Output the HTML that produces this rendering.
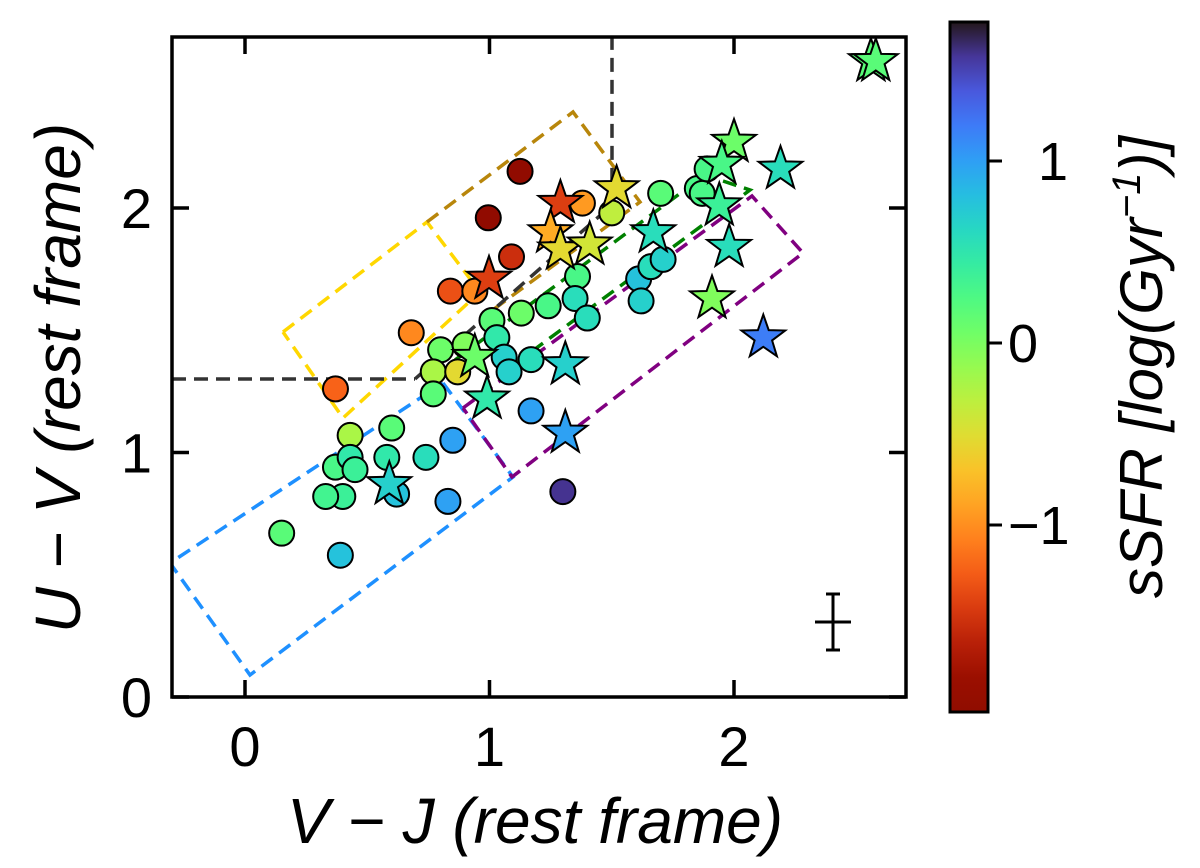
<!DOCTYPE html>
<html><head><meta charset="utf-8"><style>
body{margin:0;background:#fff}
svg text{font-family:"Liberation Sans","DejaVu Sans",sans-serif;fill:#000}
</style></head><body>
<svg id="chart" width="1200" height="863" viewBox="0 0 1200 863" xmlns="http://www.w3.org/2000/svg">
<defs>
<clipPath id="pc"><rect x="172" y="37" width="734" height="660"/></clipPath>
<linearGradient id="cbg" x1="0" y1="1" x2="0" y2="0"></linearGradient>
</defs>
<g id="boxes" clip-path="url(#pc)"></g>
<g id="marks" clip-path="url(#pc)"></g>
<g id="axes"></g>
</svg>
<script>
const circX=[1.125,0.995,1.09,0.84,0.94,0.68,0.37,1.38,0.80,0.90,1.01,1.13,1.24,1.03,1.06,1.08,0.77,0.87,0.77,1.36,1.35,1.50,1.70,1.85,1.87,1.89,1.61,1.66,1.71,1.62,1.17,0.43,0.60,0.85,0.74,0.37,0.43,0.45,0.58,0.40,0.33,0.62,0.83,0.15,0.39,1.30,1.17,1.40];
const circY=[2.15,1.96,1.80,1.66,1.66,1.49,1.26,2.02,1.42,1.44,1.54,1.57,1.60,1.47,1.39,1.33,1.33,1.33,1.24,1.72,1.63,1.98,2.06,2.08,2.06,2.16,1.71,1.76,1.79,1.62,1.38,1.07,1.10,1.05,0.98,0.94,0.98,0.93,0.98,0.82,0.82,0.83,0.80,0.67,0.58,0.84,1.17,1.55];
const circS=[-1.9,-1.9,-1.5,-1.3,-1.0,-1.0,-1.2,-0.9,0.1,0.0,0.2,0.1,0.3,0.5,0.7,0.7,-0.2,-0.5,0.2,0.3,0.6,-0.3,0.2,0.3,0.3,0.3,0.8,0.6,0.7,0.7,0.6,-0.2,0.2,1.0,0.6,0.3,0.5,0.4,0.5,0.4,0.35,0.8,1.0,0.2,0.8,1.6,1.0,0.6];
const starX=[1.29,1.25,1.29,1.41,1.52,0.998,0.94,0.99,1.31,1.31,0.59,1.67,1.94,2.00,1.95,2.19,1.98,1.91,2.12,2.56,2.58];
const starY=[2.02,1.90,1.83,1.85,2.08,1.71,1.39,1.22,1.36,1.08,0.87,1.90,2.01,2.27,2.18,2.16,1.84,1.63,1.47,2.60,2.60];
const starS=[-1.4,-0.8,-0.5,-0.4,-0.5,-1.4,0.1,0.5,0.7,1.0,0.7,0.6,0.4,0.1,0.3,0.6,0.6,0.0,1.2,0.2,0.2];
const xTicks=[0,1,2];
const yTicks=[0,1,2];
const cbTicks=[-1,0,1];
const VMIN=-1.98,VMAX=1.77;
const X=v=>245+v*244.5, Y=v=>697-v*244.5, CB=v=>343-v*182;
const NS="http://www.w3.org/2000/svg";
function mk(t,a,p){const e=document.createElementNS(NS,t);for(const k in a)e.setAttribute(k,a[k]);p.appendChild(e);return e;}
function turbo(t){t=Math.max(0,Math.min(1,t));
const r=0.13572138+t*(4.61539260+t*(-42.66032258+t*(132.13108234+t*(-152.94239396+t*59.28637943))));
const g=0.09140261+t*(2.19418839+t*(4.84296658+t*(-14.18503333+t*(4.27729857+t*2.82956604))));
const b=0.10667330+t*(12.64194608+t*(-60.58204836+t*(110.36276771+t*(-89.90310912+t*27.34824973))));
const c=x=>Math.round(255*Math.max(0,Math.min(1,x)));return `rgb(${c(r)},${c(g)},${c(b)})`;}
const col=v=>turbo(1-(v-VMIN)/(VMAX-VMIN));
const boxes=document.getElementById('boxes'),marks=document.getElementById('marks'),axes=document.getElementById('axes');
const B=[["#1e90ff","443,383 513,477 250,675 170,563 443,383","blue-box"],["#ffd700","283,332 427,222 480,292 343,418 283,332","gold-box"],["#b8860b","427,222 573,112 640,202 490,312","goldenrod-box"],["#008000","455,360 705,175 750,190 500,375","green-box"],["#800080","463,408 752,196 803,253 512,477 463,408","purple-box"],["#333","172,379 415,379","uvj-horizontal"],["#333","415,379 612,205 612,37","uvj-diagonal"]];
B.forEach(b=>{const e=mk('polyline',{points:b[1],fill:'none',stroke:b[0],'stroke-width':3.5,'stroke-dasharray':'14,8'},boxes);

});
circX.forEach((x,i)=>{const e=mk('circle',{cx:X(x),cy:Y(circY[i]),r:12.5,fill:col(circS[i]),stroke:'#000','stroke-width':2},marks);

});
function star(cx,cy,R){const p=[];for(let k=0;k<10;k++){const r=k%2?R*0.4:R,a=-Math.PI/2+k*Math.PI/5;p.push((cx+r*Math.cos(a)).toFixed(1)+','+(cy+r*Math.sin(a)).toFixed(1));}return p.join(' ');}
starX.forEach((x,i)=>{const e=mk('polygon',{points:star(X(x),Y(starY[i]),23),fill:col(starS[i]),stroke:'#000','stroke-width':2},marks);

});
const eb=mk('path',{d:'M815,622H851M833,594V650M826,594H840M826,650H840',stroke:'#000','stroke-width':3,fill:'none'},axes);


const fr=mk('rect',{x:172,y:37,width:734,height:660,fill:'none',stroke:'#000','stroke-width':3.5},axes);


xTicks.forEach(v=>{mk('path',{d:`M${X(v)},697v-17M${X(v)},37v17`,stroke:'#000','stroke-width':3.5},axes);
const t=mk('text',{x:X(v),y:766,'font-size':56,'text-anchor':'middle'},axes);t.textContent=v;

});
yTicks.forEach(v=>{mk('path',{d:`M172,${Y(v)}h17M906,${Y(v)}h-17`,stroke:'#000','stroke-width':3.5},axes);
const t=mk('text',{x:152,y:Y(v)+20,'font-size':56,'text-anchor':'end'},axes);t.textContent=v;

});
const xl=mk('text',{x:535,y:843,'font-size':64,'text-anchor':'middle','font-style':'italic'},axes);xl.textContent='V − J (rest frame)';


const yl=mk('text',{x:0,y:0,'font-size':64,'text-anchor':'middle','font-style':'italic',transform:'translate(80,378) rotate(-90)'},axes);yl.textContent='U − V (rest frame)';


const g=document.getElementById('cbg');
for(let i=0;i<=20;i++){mk('stop',{offset:i/20,'stop-color':turbo(1-i/20)},g);}
const cb=mk('rect',{x:950,y:22,width:38,height:690,fill:'url(#cbg)',stroke:'#000','stroke-width':3},axes);


cbTicks.forEach(v=>{mk('path',{d:`M988,${CB(v)}h14`,stroke:'#000','stroke-width':3},axes);
const t=mk('text',{x:1008,y:CB(v)+19,'font-size':54},axes);t.textContent=v<0?'−'+(-v):(v===1?'\u20071':v);

});
const cl=mk('text',{x:0,y:0,'font-size':60,'text-anchor':'middle','font-style':'italic',transform:'translate(1162,367) rotate(-90)'},axes);
cl.innerHTML='sSFR [log(Gyr<tspan dy="-22" font-size="40">−1</tspan><tspan dy="22">)]</tspan>';


</script>
</body></html>
